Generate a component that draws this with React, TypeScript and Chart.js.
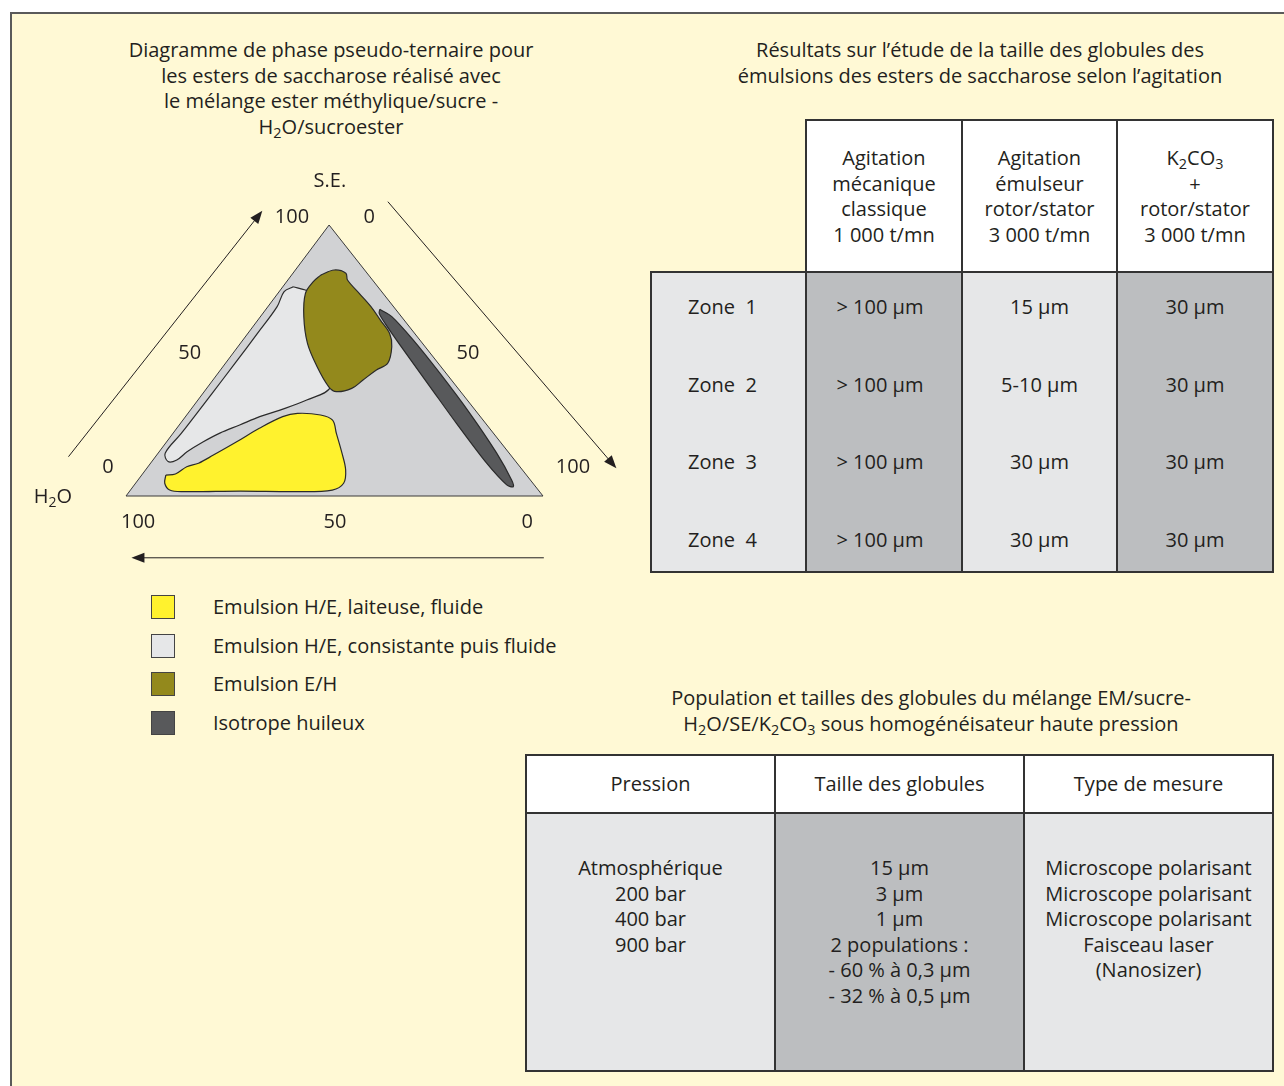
import React, { useEffect, useRef } from "react";
import { Chart, registerables } from "chart.js";

Chart.register(...registerables);

// ---- Phase regions: each point is [S.E. %, ester méthylique/sucre %]; H2O makes up the rest ----
const diagramFrame = [[0, 0], [100, 0], [0, 100], [0, 0]];

const regionLaiteuse = [
  [7.7, 5.8], [8.1, 7.9], [10.8, 9.3], [12.1, 11.5], [15.1, 13.6], [20.0, 16.8], [25.0, 19.8],
  [29.3, 23.3], [30.5, 26.3], [29.9, 32.1], [28.0, 35.9], [23.1, 39.2], [15.8, 44.1], [9.6, 48.0],
  [4.7, 49.9], [2.2, 48.4], [1.6, 40.4], [1.8, 26.6], [1.6, 12.9], [2.2, 9.4], [4.7, 7.0], [7.7, 5.8],
];

const regionConsistante = [
  [77.2, 2.5], [76.0, 6.0], [74.8, 7.8], [66.2, 11.6], [56.3, 17.3], [47.7, 23.8], [40.0, 29.5],
  [35.4, 26.1], [31.7, 21.5], [29.3, 17.8], [26.2, 14.5], [23.2, 11.2], [20.0, 8.8], [16.3, 6.7],
  [13.3, 5.7], [12.7, 3.9], [15.8, 1.7], [23.0, 2.0], [38.0, 2.2], [49.1, 2.3], [60.1, 2.3],
  [69.9, 2.2], [75.4, 1.2], [77.2, 2.5],
];

const regionEH = [
  [81.5, 7.0], [83.4, 9.3], [82.2, 12.7], [79.7, 14.3], [74.8, 19.5], [69.9, 24.7], [64.9, 29.4],
  [60.0, 34.0], [55.1, 36.9], [49.0, 38.9], [46.5, 37.4], [42.8, 36.0], [39.7, 34.8], [38.5, 31.7],
  [40.3, 29.0], [47.7, 22.6], [56.3, 16.1], [66.2, 10.4], [74.8, 6.6], [79.1, 6.4], [81.5, 7.0],
];

const regionIsotrope = [
  [68.9, 27.3], [66.2, 31.5], [57.6, 40.8], [45.3, 53.2], [30.5, 67.6], [15.8, 81.2], [5.9, 89.6],
  [3.4, 91.2], [4.1, 89.3], [12.1, 80.6], [26.8, 66.2], [40.3, 53.3], [53.9, 40.3], [63.7, 31.1],
  [67.4, 27.9], [68.9, 27.3],
];

const legendLabels = [
  "Emulsion H/E, laiteuse, fluide",
  "Emulsion H/E, consistante puis fluide",
  "Emulsion E/H",
  "Isotrope huileux",
];

// axis tick labels of the three sides
const seTicks = ["100", "50", "0"];
const emTicks = ["0", "50", "100"];
const waterTicks = ["100", "50", "0"];

// ---- Table 1: globule size vs. agitation ----
const agitationHeaders = [
  "Agitation\nmécanique\nclassique\n1 000 t/mn",
  "Agitation\némulseur\nrotor/stator\n3 000 t/mn",
  "K_2CO_3\n+\nrotor/stator\n3 000 t/mn",
];
const zones = ["Zone  1", "Zone  2", "Zone  3", "Zone  4"];
const tailleMecanique = ["> 100 µm", "> 100 µm", "> 100 µm", "> 100 µm"];
const tailleRotorStator = ["15 µm", "5-10 µm", "30 µm", "30 µm"];
const tailleK2CO3 = ["30 µm", "30 µm", "30 µm", "30 µm"];

// ---- Table 2: high-pressure homogeniser ----
const pressionHeaders = ["Pression", "Taille des globules", "Type de mesure"];
const pressions = ["Atmosphérique", "200 bar", "400 bar", "900 bar"];
const taillesGlobules = ["15 µm", "3 µm", "1 µm", "2 populations :", "- 60 % à 0,3 µm", "- 32 % à 0,5 µm"];
const typesMesure = [
  "Microscope polarisant",
  "Microscope polarisant",
  "Microscope polarisant",
  "Faisceau laser",
  "(Nanosizer)",
];

// ---- styling ----
const FONT = '"Open Sans", "Noto Sans", "DejaVu Sans", sans-serif';
const FONT_SIZE = 20;
const TEXT = "#231f20";
const CREAM = "#fff9d5";
const LINE = "#333333";
const GREY_LIGHT = "#e6e7e8";
const GREY_DARK = "#bcbec0";
const COLORS = {
  frame: "#d1d2d4",
  laiteuse: "#fff22e",
  consistante: "#e6e7e8",
  eh: "#93891c",
  isotrope: "#58595b",
};
const legendColors = [COLORS.laiteuse, COLORS.consistante, COLORS.eh, COLORS.isotrope];

// geometry of the ternary plot (page pixels)
const CANVAS = { left: 20, top: 160, w: 620, h: 420 };
const TRI = { left: 126, right: 543, base: 496, top: 225 };
const APEX_SHIFT = 0.487; // horizontal position of the S.E. apex along the base
const X_UNIT = (TRI.right - TRI.left) / 100;
const Y_UNIT = (TRI.base - TRI.top) / 100;

const toXY = (pts: number[][]) => pts.map(([se, em]) => ({ x: em + APEX_SHIFT * se, y: se }));

function drawChem(ctx: CanvasRenderingContext2D, text: string, cx: number, cy: number, size: number) {
  const parts = text.split(/(_\d)/).filter((p) => p.length);
  const big = `${size}px ${FONT}`;
  const small = `${Math.round(size * 0.72)}px ${FONT}`;
  let total = 0;
  const widths = parts.map((p) => {
    ctx.font = p.startsWith("_") ? small : big;
    const w = ctx.measureText(p.startsWith("_") ? p.slice(1) : p).width;
    total += w;
    return w;
  });
  let x = cx - total / 2;
  ctx.textAlign = "left";
  ctx.textBaseline = "middle";
  parts.forEach((p, i) => {
    const sub = p.startsWith("_");
    ctx.font = sub ? small : big;
    ctx.fillText(sub ? p.slice(1) : p, x, cy + (sub ? size * 0.3 : 0));
    x += widths[i];
  });
}

function arrow(ctx: CanvasRenderingContext2D, x0: number, y0: number, x1: number, y1: number) {
  const a = Math.atan2(y1 - y0, x1 - x0);
  const len = 13;
  const half = 5;
  ctx.beginPath();
  ctx.moveTo(x0, y0);
  ctx.lineTo(x1 - Math.cos(a) * len * 0.8, y1 - Math.sin(a) * len * 0.8);
  ctx.stroke();
  ctx.beginPath();
  ctx.moveTo(x1, y1);
  ctx.lineTo(x1 - Math.cos(a) * len - Math.sin(a) * half, y1 - Math.sin(a) * len + Math.cos(a) * half);
  ctx.lineTo(x1 - Math.cos(a) * len + Math.sin(a) * half, y1 - Math.sin(a) * len - Math.cos(a) * half);
  ctx.closePath();
  ctx.fill();
}

const ternaryAnnotations = {
  id: "ternaryAnnotations",
  afterDatasetsDraw(chart: any) {
    const { ctx } = chart;
    const sx = chart.scales.x;
    const sy = chart.scales.y;
    const P = (x: number, y: number) => [sx.getPixelForValue(x), sy.getPixelForValue(y)];
    ctx.save();
    ctx.fillStyle = TEXT;
    ctx.strokeStyle = TEXT;
    ctx.lineWidth = 1;

    const put = (t: string, x: number, y: number) => {
      const [px, py] = P(x, y);
      drawChem(ctx, t, px, py, FONT_SIZE);
    };
    put("S.E.", 48.9, 116.2);
    put("H_2O", -17.5, -0.4);
    // S.E. side (left)
    put(seTicks[0], 39.8, 103.0);
    put(seTicks[1], 15.3, 52.8);
    put(seTicks[2], -4.3, 10.7);
    // ester/sucre side (right)
    put(emTicks[0], 58.3, 103.0);
    put(emTicks[1], 82.0, 52.8);
    put(emTicks[2], 107.2, 10.7);
    // H2O side (base)
    put(waterTicks[0], 2.9, -9.6);
    put(waterTicks[1], 50.1, -9.6);
    put(waterTicks[2], 96.2, -9.6);

    const arr = (a: number[], b: number[]) => {
      const [x0, y0] = P(a[0], a[1]);
      const [x1, y1] = P(b[0], b[1]);
      arrow(ctx, x0, y0, x1, y1);
    };
    arr([-13.8, 14.5], [32.7, 105.3]);
    arr([62.8, 108.6], [117.6, 10.2]);
    arr([100.2, -22.8], [1.3, -22.8]);
    ctx.restore();
  },
};

function TernaryDiagram() {
  const ref = useRef<HTMLCanvasElement>(null);
  useEffect(() => {
    const region = (label: string, pts: number[][], color: string, order: number, tension = 0.35) => ({
      label,
      data: toXY(pts),
      showLine: true,
      fill: "shape",
      backgroundColor: color,
      borderColor: "#2a2a2a",
      borderWidth: 1.2,
      pointRadius: 0,
      tension,
      order,
    });
    const chart = new Chart(ref.current!, {
      type: "scatter",
      data: {
        datasets: [
          { ...region("frame", diagramFrame, COLORS.frame, 6, 0), borderColor: "#3a3a3a", borderWidth: 1 },
          region(legendLabels[1], regionConsistante, COLORS.consistante, 5),
          region(legendLabels[0], regionLaiteuse, COLORS.laiteuse, 4),
          region(legendLabels[3], regionIsotrope, COLORS.isotrope, 3, 0.3),
          region(legendLabels[2], regionEH, COLORS.eh, 2),
        ] as any,
      },
      options: {
        animation: false,
        responsive: false,
        maintainAspectRatio: false,
        layout: { padding: 0 },
        plugins: { legend: { display: false }, tooltip: { enabled: false } },
        scales: {
          x: {
            type: "linear",
            display: false,
            min: (CANVAS.left - TRI.left) / X_UNIT,
            max: (CANVAS.left + CANVAS.w - TRI.left) / X_UNIT,
          },
          y: {
            type: "linear",
            display: false,
            min: (TRI.base - CANVAS.top - CANVAS.h) / Y_UNIT,
            max: (TRI.base - CANVAS.top) / Y_UNIT,
          },
        },
      } as any,
      plugins: [ternaryAnnotations],
    });
    return () => chart.destroy();
  }, []);
  return (
    <canvas
      ref={ref}
      width={CANVAS.w}
      height={CANVAS.h}
      style={{ position: "absolute", left: CANVAS.left, top: CANVAS.top, width: CANVAS.w, height: CANVAS.h }}
    />
  );
}

const subStyle: React.CSSProperties = { fontSize: "0.72em", verticalAlign: "-0.3em", lineHeight: 0 };

function Chem({ text }: { text: string }) {
  const parts = text.split(/(_\d)/).filter((p) => p.length);
  return (
    <>
      {parts.map((p, i) =>
        p.startsWith("_") ? (
          <sub key={i} style={subStyle}>
            {p.slice(1)}
          </sub>
        ) : (
          <React.Fragment key={i}>{p}</React.Fragment>
        )
      )}
    </>
  );
}

const baseText: React.CSSProperties = {
  fontFamily: FONT,
  fontSize: FONT_SIZE,
  lineHeight: "25.5px",
  color: TEXT,
  whiteSpace: "pre",
};

function Cell(props: {
  x0: number;
  x1: number;
  y0: number;
  y1: number;
  bg: string;
  children?: React.ReactNode;
  style?: React.CSSProperties;
}) {
  const { x0, x1, y0, y1, bg, children, style } = props;
  return (
    <div
      style={{
        position: "absolute",
        left: x0 - 1,
        top: y0 - 1,
        width: x1 - x0 + 2,
        height: y1 - y0 + 2,
        border: `2px solid ${LINE}`,
        boxSizing: "border-box",
        background: bg,
        display: "flex",
        flexDirection: "column",
        alignItems: "center",
        textAlign: "center",
        ...baseText,
        ...style,
      }}
    >
      {children}
    </div>
  );
}

function Lines({ lines }: { lines: string[] }) {
  return (
    <>
      {lines.map((l, i) => (
        <div key={i}>
          <Chem text={l} />
        </div>
      ))}
    </>
  );
}

function AgitationTable() {
  const cols = [651, 806, 962, 1117, 1273];
  const head = [120, 272];
  const body = [272, 572];
  const bodyCols = [zones, tailleMecanique, tailleRotorStator, tailleK2CO3];
  const bodyBg = [GREY_LIGHT, GREY_DARK, GREY_LIGHT, GREY_DARK];
  return (
    <>
      {agitationHeaders.map((h, i) => (
        <Cell key={"h" + i} x0={cols[i + 1]} x1={cols[i + 2]} y0={head[0]} y1={head[1]} bg="#ffffff"
          style={{ justifyContent: "center" }}>
          <Lines lines={h.split("\n")} />
        </Cell>
      ))}
      {bodyCols.map((c, i) => (
        <Cell key={"b" + i} x0={cols[i]} x1={cols[i + 1]} y0={body[0]} y1={body[1]} bg={bodyBg[i]}
          style={{
            justifyContent: "space-between",
            paddingTop: 21,
            paddingBottom: 19,
            paddingRight: i === 0 ? 12 : i === 1 ? 8 : 0,
          }}>
          <Lines lines={c} />
        </Cell>
      ))}
    </>
  );
}

function PressionTable() {
  const cols = [526, 775, 1024, 1273];
  const head = [755, 813];
  const body = [813, 1071];
  const bodyCols = [pressions, taillesGlobules, typesMesure];
  const bodyBg = [GREY_LIGHT, GREY_DARK, GREY_LIGHT];
  return (
    <>
      {pressionHeaders.map((h, i) => (
        <Cell key={"h" + i} x0={cols[i]} x1={cols[i + 1]} y0={head[0]} y1={head[1]} bg="#ffffff"
          style={{ justifyContent: "center" }}>
          <Lines lines={[h]} />
        </Cell>
      ))}
      {bodyCols.map((c, i) => (
        <Cell key={"b" + i} x0={cols[i]} x1={cols[i + 1]} y0={body[0]} y1={body[1]} bg={bodyBg[i]}
          style={{ justifyContent: "flex-start", paddingTop: 41 }}>
          <Lines lines={c} />
        </Cell>
      ))}
    </>
  );
}

function Title({ lines, cx, top, width }: { lines: string[]; cx: number; top: number; width: number }) {
  return (
    <div style={{ position: "absolute", left: cx - width / 2, top, width, textAlign: "center", ...baseText }}>
      <Lines lines={lines} />
    </div>
  );
}

function Legend() {
  return (
    <>
      {legendLabels.map((l, i) => (
        <React.Fragment key={i}>
          <div
            style={{
              position: "absolute",
              left: 151,
              top: 595 + i * 38.5,
              width: 24,
              height: 24,
              boxSizing: "border-box",
              border: "1.5px solid #444",
              background: legendColors[i],
            }}
          />
          <div style={{ position: "absolute", left: 213, top: 595 + i * 38.5 - 1, ...baseText }}>{l}</div>
        </React.Fragment>
      ))}
    </>
  );
}

export default function App() {
  return (
    <div style={{ position: "absolute", left: 0, top: 0, width: 1284, height: 1086, overflow: "hidden", background: "#fff" }}>
      <div
        style={{
          position: "absolute",
          left: 10,
          top: 12,
          width: 1300,
          height: 1100,
          background: CREAM,
          borderTop: "2px solid #5a5a5a",
          borderLeft: "2px solid #5a5a5a",
          boxSizing: "border-box",
        }}
      />
      <Title
        lines={[
          "Diagramme de phase pseudo-ternaire pour",
          "les esters de saccharose réalisé avec",
          "le mélange ester méthylique/sucre -",
          "H_2O/sucroester",
        ]}
        cx={331}
        top={37}
        width={480}
      />
      <Title
        lines={[
          "Résultats sur l’étude de la taille des globules des",
          "émulsions des esters de saccharose selon l’agitation",
        ]}
        cx={980}
        top={37}
        width={580}
      />
      <TernaryDiagram />
      <Legend />
      <AgitationTable />
      <Title
        lines={["Population et tailles des globules du mélange EM/sucre-", "H_2O/SE/K_2CO_3 sous homogénéisateur haute pression"]}
        cx={931}
        top={685}
        width={640}
      />
      <PressionTable />
    </div>
  );
}
